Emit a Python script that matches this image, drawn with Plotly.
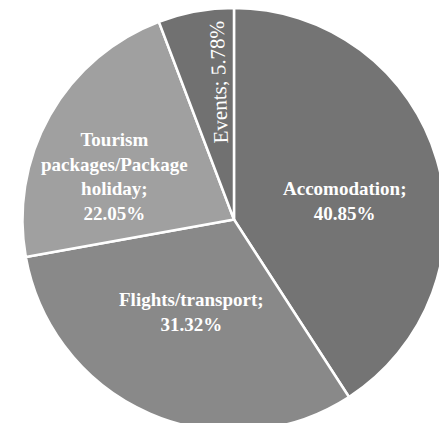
import math
import plotly.graph_objects as go

categories = ["Accomodation", "Flights/transport", "Tourism packages/Package holiday", "Events"]
values = [40.85, 31.32, 22.05, 5.78]
label_text = ["Accomodation;", "Flights/transport;", "Tourism<br>packages/Package<br>holiday;", "Events;"]
colors = ["#747474", "#898989", "#a0a0a0", "#717171"]

# label placement style: fraction of radius, angular nudge (deg), radial orientation flag
label_radius = [0.53, 0.48, 0.60, 0.65]
label_nudge = [7.0, 1.5, -9.5, 4.0]
radial_label = [False, False, False, True]

domain = dict(x=[0.0324, 0.9787], y=[0.0, 1.0])
W, H = 447, 423

fig = go.Figure()
fig.add_trace(go.Pie(
    labels=categories, values=values, sort=False, direction="clockwise", rotation=0,
    marker=dict(colors=colors, line=dict(color="white", width=2.5)),
    textinfo="none", hoverinfo="none", domain=domain, showlegend=False,
))

total = sum(values)
cx = (domain["x"][0] + domain["x"][1]) / 2
cy = (domain["y"][0] + domain["y"][1]) / 2
R_px = min((domain["x"][1] - domain["x"][0]) * W, (domain["y"][1] - domain["y"][0]) * H) / 2
cum = 0.0
for cat, v, t, rf, nd, rad in zip(categories, values, label_text, label_radius, label_nudge, radial_label):
    mid_deg = (cum + v / 2) / total * 360
    cum += v
    m = math.radians(mid_deg + nd)
    r = rf * R_px
    x = cx + r * math.sin(m) / W
    y = cy + r * math.cos(m) / H
    if rad:
        fig.add_annotation(
            x=x, y=y, xref="paper", yref="paper", xanchor="center", yanchor="middle",
            showarrow=False, text=f"{t} {v:.2f}%", textangle=-92,
            font=dict(family="Liberation Serif", size=21, color="white"),
        )
    else:
        fig.add_annotation(
            x=x, y=y, xref="paper", yref="paper", xanchor="center", yanchor="middle",
            showarrow=False, text=f"<b>{t}<br>{v:.2f}%</b>",
            font=dict(family="Liberation Serif", size=19, color="white"),
        )

fig.update_layout(
    width=W, height=H, margin=dict(l=0, r=0, t=0, b=0),
    paper_bgcolor="white", plot_bgcolor="white",
)
fig.write_html("out.html")
